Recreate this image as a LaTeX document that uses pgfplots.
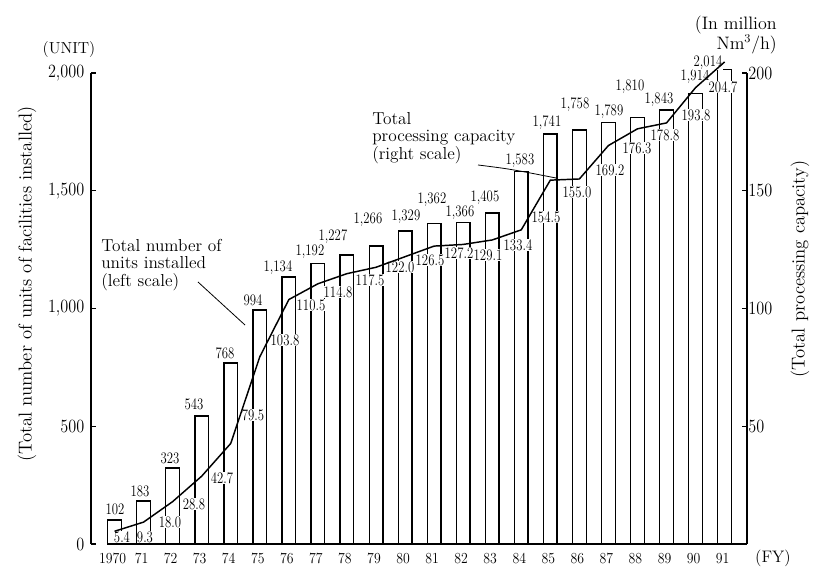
\documentclass[border=0pt]{standalone}
\usepackage{fontspec}
\usepackage{graphicx}
\usepackage{pgfplots}
\pgfplotsset{compat=1.18}
\usepackage{pgfplotstable}

\newcommand{\nl}[1]{\scalebox{0.8}[1]{#1}}
\newcommand{\tl}[1]{\scalebox{0.87}[1]{#1}}
\newcommand{\xl}[1]{\scalebox{0.9}[1]{#1}}

\pgfplotstableread{
x units cap
0 102 5.4
1 183 9.3
2 323 18.0
3 543 28.8
4 768 42.7
5 994 79.5
6 1134 103.8
7 1192 110.5
8 1227 114.8
9 1266 117.5
10 1329 122.0
11 1362 126.5
12 1366 127.2
13 1405 129.1
14 1583 133.4
15 1741 154.5
16 1758 155.0
17 1789 169.2
18 1810 176.3
19 1843 178.8
20 1914 193.8
21 2014 204.7
}\datatable

\begin{document}
\begin{tikzpicture}
\begin{axis}[
  at={(0,0)}, anchor=south west,
  scale only axis, width=492pt, height=353.25pt,
  xmin=-0.81, xmax=21.77, ymin=0, ymax=2000,
  separate axis lines,
  x axis line style={draw=none},
  y axis line style={line width=1pt},
  ybar, bar width=0.47,
  ytick={0,500,1000,1500,2000},
  yticklabels={\tl{0},\tl{500},\tl{1,000},\tl{1,500},\tl{2,000}},
  ytick pos=left, tick align=inside,
  major tick length=4pt,
  ytick style={line width=0.8pt, black},
  yticklabel style={font=\fontsize{14}{14}\selectfont, xshift=-1.5pt},
  xtick={0,...,21},
  xticklabels={\xl{1970},\xl{71},\xl{72},\xl{73},\xl{74},\xl{75},\xl{76},\xl{77},\xl{78},\xl{79},\xl{80},\xl{81},\xl{82},\xl{83},\xl{84},\xl{85},\xl{86},\xl{87},\xl{88},\xl{89},\xl{90},\xl{91}},
  xtick style={draw=none},
  xticklabel style={font=\fontsize{11.5}{11.5}\selectfont, yshift=-3.5pt, xshift=-1.5pt},
  clip=false,
]
\addplot[draw=black, fill=white, line width=1pt] table[x=x,y=units]{\datatable};
\end{axis}

\begin{scope}[shift={(-68.25pt,408pt)}, x=0.75pt, y=-0.75pt]
\draw[line width=1pt] (113,544) -- (747,544);
% bar value labels
\begin{scope}[every node/.style={fill=white, inner sep=0.3pt, font=\fontsize{12}{12}\selectfont}]
\node at (115,509) {\nl{102}};
\node at (140,491) {\nl{183}};
\node at (170,458) {\nl{323}};
\node at (194,404) {\nl{543}};
\node at (225,353) {\nl{768}};
\node at (253,300) {\nl{994}};
\node at (278,268) {\nl{1,134}};
\node at (310,252) {\nl{1,192}};
\node at (333,237) {\nl{1,227}};
\node at (368,220) {\nl{1,266}};
\node at (406,217) {\nl{1,329}};
\node at (432,200) {\nl{1,362}};
\node at (460,213) {\nl{1,366}};
\node at (485,198) {\nl{1,405}};
\node at (520,161) {\nl{1,583}};
\node at (547,123) {\nl{1,741}};
\node at (575,105) {\nl{1,758}};
\node at (609,112) {\nl{1,789}};
\node at (630,87) {\nl{1,810}};
\node at (659,100) {\nl{1,843}};
\node at (695,77) {\nl{1,914}};
\node at (708,63) {\nl{2,014}};
% line value labels
\node at (122,537) {\nl{5.4}};
\node at (145,537) {\nl{9.3}};
\node at (170,522) {\nl{18.0}};
\node at (194,504) {\nl{28.8}};
\node at (222,478) {\nl{42.7}};
\node at (253,415) {\nl{79.5}};
\node at (285,340) {\nl{103.8}};
\node at (311,305) {\nl{110.5}};
\node at (338,292) {\nl{114.8}};
\node at (370,280) {\nl{117.5}};
\node at (400,267) {\nl{122.0}};
\node at (430,260) {\nl{126.5}};
\node at (459,253) {\nl{127.2}};
\node at (488,255) {\nl{129.1}};
\node at (518,245) {\nl{133.4}};
\node at (546,217) {\nl{154.5}};
\node at (577,192) {\nl{155.0}};
\node at (610,170) {\nl{169.2}};
\node at (637,148) {\nl{176.3}};
\node at (665,135) {\nl{178.8}};
\node at (696,115) {\nl{193.8}};
\node at (723,87) {\nl{204.7}};
\end{scope}
% annotations
\node[anchor=west, align=left, inner sep=0pt, font=\fontsize{13}{13.2}\selectfont] at (101,265) {Total number of\\units installed\\(left scale)};
\draw[line width=0.6pt] (198,282) -- (245,325);
\node[anchor=west, align=left, inner sep=0pt, font=\fontsize{13}{13.2}\selectfont] at (372,138) {Total\\processing capacity\\(right scale)};
\draw[line width=0.6pt] (478,165) .. controls (510,169) .. (556,178);
% axis titles and units
\node[font=\fontsize{12}{12}\selectfont] at (69,50) {(UNIT)};
\node[anchor=east, align=right, inner sep=0pt, font=\fontsize{13.5}{13}\selectfont] at (777,35) {(In million\\Nm$^3$/h)};
\node[font=\fontsize{12.5}{12.5}\selectfont] at (773,558) {(FY)};
\node[rotate=90, font=\fontsize{14}{14}\selectfont] at (27,284) {(Total number of units of facilities installed)};
\node[rotate=90, font=\fontsize{14}{14}\selectfont] at (800,269) {(Total processing capacity)};
\end{scope}

\begin{axis}[
  at={(0,0)}, anchor=south west,
  scale only axis, width=492pt, height=353.25pt,
  xmin=-0.81, xmax=21.77, ymin=0, ymax=200,
  axis line style={draw=none},
  xtick=\empty,
  ytick={50,100,150,200},
  yticklabels={\tl{50},\tl{100},\tl{150},\tl{200}},
  ytick pos=right, yticklabel pos=right,
  tick align=inside, major tick length=4pt,
  ytick style={line width=0.8pt, black},
  yticklabel style={font=\fontsize{14}{14}\selectfont, xshift=-2.5pt},
  clip=false,
]
\addplot[black, line width=1.1pt, mark=none] table[x=x,y=cap]{\datatable};
\end{axis}

\pgfresetboundingbox
\path[use as bounding box] (-68.25pt,-30.75pt) rectangle (546.75pt,408pt);
\end{tikzpicture}
\end{document}
